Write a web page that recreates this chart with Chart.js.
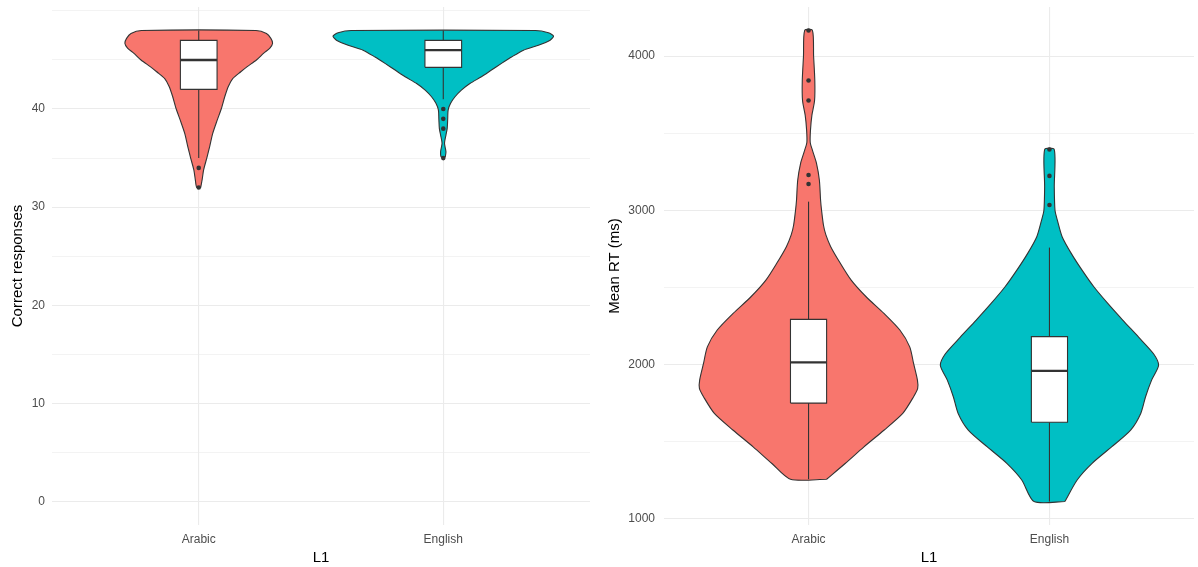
<!DOCTYPE html>
<html><head><meta charset="utf-8">
<script src="https://cdn.jsdelivr.net/npm/chart.js@4.4.1/dist/chart.umd.min.js"></script>
<style>
html,body{margin:0;padding:0;background:#fff;overflow:hidden;width:1198px;height:567px;}
#c1{position:absolute;left:0;top:0;}
#c2{position:absolute;left:599px;top:0;}
</style></head><body>
<canvas id="c1" width="599" height="567"></canvas>
<canvas id="c2" width="599" height="567"></canvas>
<script>
// ---------- shared ----------
const categories = ['Arabic', 'English'];
const categoryPositions = [1, 2];
const fillColors = ['#F8766D', '#00BFC4'];

// ---------- panel 1: Correct responses ----------
const correctTickValues = [0, 5, 10, 15, 20, 25, 30, 35, 40, 45, 50];
const correctTickLabels = ['0', '', '10', '', '20', '', '30', '', '40', '', ''];
const correctArabicY = [32.0, 32.8, 33.8, 35.0, 36.2, 37.5, 38.9, 40.0, 41.3, 42.3, 43.1, 43.8, 44.3, 45.0, 45.7, 46.2, 46.7, 47.2, 47.7, 48.0];
const correctArabicW = [0.008, 0.014, 0.020, 0.033, 0.045, 0.057, 0.076, 0.092, 0.107, 0.121, 0.139, 0.172, 0.197, 0.236, 0.266, 0.291, 0.302, 0.295, 0.277, 0.234];
const correctEnglishY = [35.1, 35.65, 36.5, 37.35, 38.0, 38.9, 39.9, 40.58, 41.25, 41.93, 42.6, 43.29, 43.97, 44.65, 45.3, 46.0, 46.5, 47.02, 47.43, 47.77, 48.0];
const correctEnglishW = [0.008, 0.011, 0.005, 0.011, 0.016, 0.018, 0.020, 0.030, 0.048, 0.074, 0.109, 0.156, 0.197, 0.238, 0.279, 0.328, 0.389, 0.437, 0.451, 0.430, 0.376];
// [lower whisker, Q1, median, Q3, upper whisker]
const correctArabicBox = [35, 42, 45, 47, 48];
const correctEnglishBox = [41, 44.25, 46, 47, 48];
const correctArabicOutliers = [34, 32];
const correctEnglishOutliers = [40, 39, 38, 35];

// ---------- panel 2: Mean RT ----------
const rtTickValues = [1000, 1500, 2000, 2500, 3000, 3500, 4000];
const rtTickLabels = ['1000', '', '2000', '', '3000', '', '4000'];
const rtArabicY = [1255, 1357, 1465, 1573, 1682, 1790, 1844, 1898, 2006, 2114, 2223, 2331, 2439, 2547, 2656, 2764, 2840, 2903, 3000, 3065, 3195, 3305, 3390, 3440, 3520, 3617, 3712, 3842, 4000, 4167];
const rtArabicW = [0.075, 0.152, 0.230, 0.313, 0.391, 0.436, 0.453, 0.452, 0.436, 0.420, 0.379, 0.313, 0.239, 0.177, 0.132, 0.092, 0.072, 0.062, 0.054, 0.050, 0.045, 0.033, 0.016, 0.007, 0.008, 0.014, 0.025, 0.026, 0.021, 0.016];
const rtEnglishY = [1110, 1250, 1358, 1466, 1574, 1682, 1790, 1898, 1994, 2069, 2177, 2286, 2394, 2502, 2610, 2719, 2827, 2935, 3000, 3152, 3394];
const rtEnglishW = [0.064, 0.115, 0.177, 0.259, 0.337, 0.379, 0.399, 0.424, 0.453, 0.432, 0.370, 0.305, 0.243, 0.185, 0.136, 0.091, 0.053, 0.033, 0.023, 0.020, 0.020];
const rtArabicBox = [1255, 1749, 2013, 2292, 3056];
const rtEnglishBox = [1110, 1625, 1958, 2180, 2758];
const rtArabicOutliers = [3171, 3229, 3712, 3842, 4167];
const rtEnglishOutliers = [3034, 3223, 3394];

// ---------- builders ----------
const OUTLINE = '#333333';
const BOX_HALF = 0.075;
const FONT = 'Liberation Sans, Arial, sans-serif';

function violinPoints(pos, ys, ws) {
  const right = ys.map((y, i) => ({x: pos + ws[i], y: y}));
  const left = ys.map((y, i) => ({x: pos - ws[i], y: y})).reverse();
  const pts = right.concat(left);
  pts.push(pts[0]);
  return pts;
}

function groupDatasets(pos, ys, ws, box, outliers, color) {
  const [lo, q1, med, q3, hi] = box;
  return [
    {data: violinPoints(pos, ys, ws), backgroundColor: color, borderColor: OUTLINE, borderWidth: 1.1,
     fill: 'shape', pointRadius: 0, tension: 0.25, order: 5},
    {data: [{x: pos, y: lo}, {x: pos, y: q1}], borderColor: OUTLINE, borderWidth: 1.1, fill: false, pointRadius: 0, order: 4},
    {data: [{x: pos, y: q3}, {x: pos, y: hi}], borderColor: OUTLINE, borderWidth: 1.1, fill: false, pointRadius: 0, order: 4},
    {data: [{x: pos - BOX_HALF, y: q1}, {x: pos + BOX_HALF, y: q1}, {x: pos + BOX_HALF, y: q3}, {x: pos - BOX_HALF, y: q3}, {x: pos - BOX_HALF, y: q1}],
     backgroundColor: '#FFFFFF', borderColor: OUTLINE, borderWidth: 1.1, fill: 'shape', pointRadius: 0, tension: 0, order: 3},
    {data: [{x: pos - BOX_HALF, y: med}, {x: pos + BOX_HALF, y: med}], borderColor: OUTLINE, borderWidth: 2.3, fill: false, pointRadius: 0, order: 2},
    {data: outliers.map(v => ({x: pos, y: v})), showLine: false, pointRadius: 2.3, pointBackgroundColor: '#333333',
     pointBorderWidth: 0, borderColor: 'rgba(0,0,0,0)', order: 1}
  ];
}

function makeChart(canvasId, datasets, cfg) {
  return new Chart(document.getElementById(canvasId), {
    type: 'line',
    data: {datasets: datasets},
    options: {
      responsive: false, animation: false, events: [],
      layout: {padding: {top: 7, right: cfg.padRight, left: 0, bottom: 0}},
      plugins: {legend: {display: false}, tooltip: {enabled: false}},
      scales: {
        x: {
          type: 'linear', min: 0.4, max: 2.6,
          afterBuildTicks: s => { s.ticks = categoryPositions.map(v => ({value: v})); },
          afterFit: s => { s.height = 42; s.paddingLeft = 0; s.paddingRight = 0; s.paddingTop = 0; s.paddingBottom = 0; },
          grid: {color: '#EBEBEB', lineWidth: 1.1, drawTicks: false},
          border: {display: false},
          ticks: {padding: 7, color: '#4D4D4D', font: {family: FONT, size: 12}, maxRotation: 0, autoSkip: false,
                  callback: v => categories[categoryPositions.indexOf(Math.round(v))]},
          title: {display: true, text: 'L1', color: '#000000', font: {family: FONT, size: 15}, padding: {top: 0, bottom: 0}}
        },
        y: {
          type: 'linear', min: cfg.yMin, max: cfg.yMax,
          afterBuildTicks: s => { s.ticks = cfg.tickValues.map(v => ({value: v})); },
          afterFit: s => { s.width = cfg.yWidth; s.paddingLeft = 0; s.paddingRight = 0; s.paddingTop = 0; s.paddingBottom = 0; },
          grid: {color: '#EBEBEB', drawTicks: false,
                 lineWidth: c => (c.tick && cfg.tickLabels[cfg.tickValues.indexOf(c.tick.value)] !== '') ? 1.1 : 0.6},
          border: {display: false},
          ticks: {padding: cfg.tickPad, color: '#4D4D4D', font: {family: FONT, size: 12}, autoSkip: false,
                  callback: v => cfg.tickLabels[cfg.tickValues.indexOf(v)]},
          title: {display: true, text: cfg.yTitle, color: '#000000', font: {family: FONT, size: 15}, padding: {top: cfg.titlePad, bottom: 0}}
        }
      }
    }
  });
}

makeChart('c1',
  groupDatasets(1, correctArabicY, correctArabicW, correctArabicBox, correctArabicOutliers, fillColors[0])
    .concat(groupDatasets(2, correctEnglishY, correctEnglishW, correctEnglishBox, correctEnglishOutliers, fillColors[1])),
  {yMin: -2.4, yMax: 50.4, tickValues: correctTickValues, tickLabels: correctTickLabels, yWidth: 52, padRight: 9,
   tickPad: 7, titlePad: 8.5, yTitle: 'Correct responses'});

makeChart('c2',
  groupDatasets(1, rtArabicY, rtArabicW, rtArabicBox, rtArabicOutliers, fillColors[0])
    .concat(groupDatasets(2, rtEnglishY, rtEnglishW, rtEnglishBox, rtEnglishOutliers, fillColors[1])),
  {yMin: 958, yMax: 4319, tickValues: rtTickValues, tickLabels: rtTickLabels, yWidth: 65, padRight: 0,
   tickPad: 9, titlePad: 6.5, yTitle: 'Mean RT (ms)'});
</script>
</body></html>
